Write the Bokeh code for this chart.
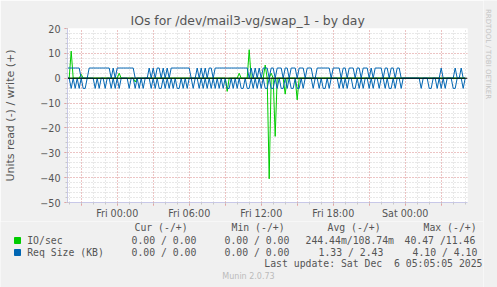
import math
from bokeh.plotting import figure
from bokeh.layouts import column, row
from bokeh.models import Range1d, FixedTicker
from bokeh.core.properties import value
from bokeh.embed import file_html
from bokeh.resources import INLINE

# ---- data (10-minute samples starting Thu 19:50; hours relative to Fri 00:00) ----
T0 = -25 / 6
N = 200

# Req Size (KB) write (+)
req_write = [
    4.1, 4.1, 4.1, 4.1, 4.1, 4.1, 4.1, 0, 0, 0,
    0, 4.1, 4.1, 4.1, 4.1, 4.1, 4.1, 4.1, 4.1, 4.1,
    4.1, 4.1, 0, 4.1, 0, 4.1, 4.1, 4.1, 4.1, 4.1,
    4.1, 4.1, 4.1, 4.1, 0, 0, 0, 0, 0, 0,
    0, 4.1, 0, 4.1, 0, 4.1, 4.1, 0, 4.1, 0,
    4.1, 0, 4.1, 4.1, 4.1, 4.1, 4.1, 4.1, 4.1, 4.1,
    4.1, 4.1, 0, 0, 0, 4.1, 0, 4.1, 0, 4.1,
    0, 4.1, 4.1, 0, 4.1, 4.1, 4.1, 4.1, 4.1, 4.1,
    4.1, 4.1, 4.1, 4.1, 4.1, 4.1, 4.1, 4.1, 4.1, 4.1,
    4.1, 0, 4.1, 0, 4.1, 0, 4.1, 0, 4.1, 4.1,
    4.1, 0, 4.1, 4.1, 0, 4.1, 4.1, 4.1, 0, 4.1,
    4.1, 0, 4.1, 4.1, 4.1, 0, 4.1, 4.1, 4.1, 0,
    4.1, 4.1, 4.1, 0, 0, 4.1, 4.1, 4.1, 4.1, 4.1,
    4.1, 4.1, 0, 4.1, 4.1, 4.1, 4.1, 0, 4.1, 4.1,
    0, 4.1, 4.1, 4.1, 0, 4.1, 4.1, 0, 4.1, 4.1,
    4.1, 0, 4.1, 0, 4.1, 4.1, 4.1, 4.1, 0, 4.1,
    4.1, 0, 4.1, 4.1, 0, 4.1, 4.1, 0, 0, 0,
    0, 0, 0, 0, 0, 0, 0, 0, 0, 0,
    0, 0, 0, 0, 0, 0, 0, 4.1, 0, 0,
    0, 0, 0, 0, 4.1, 0, 0, 4.1, 0, 0,
]
# Req Size (KB) read (-)
req_read = [
    0, 0, 4.1, 0, 4.1, 0, 4.1, 0, 4.1, 4.1,
    0, 0, 0, 0, 4.1, 0, 4.1, 0, 0, 4.1,
    0, 0, 4.1, 0, 4.1, 0, 4.1, 0, 0, 0,
    0, 4.1, 0, 0, 4.1, 0, 4.1, 0, 4.1, 0,
    0, 0, 4.1, 0, 4.1, 0, 4.1, 4.1, 0, 4.1,
    0, 4.1, 0, 4.1, 0, 4.1, 4.1, 0, 4.1, 0,
    4.1, 0, 0, 4.1, 0, 0, 4.1, 0, 4.1, 0,
    4.1, 0, 4.1, 0, 4.1, 0, 4.1, 0, 4.1, 0,
    4.1, 4.1, 0, 4.1, 0, 4.1, 0, 4.1, 4.1, 0,
    4.1, 4.1, 0, 4.1, 0, 4.1, 0, 4.1, 0, 4.1,
    4.1, 0, 4.1, 4.1, 0, 4.1, 0, 4.1, 4.1, 0,
    4.1, 0, 4.1, 4.1, 0, 4.1, 4.1, 0, 4.1, 0,
    0, 0, 0, 4.1, 0, 0, 4.1, 0, 4.1, 4.1,
    0, 4.1, 0, 0, 0, 0, 4.1, 0, 4.1, 0,
    4.1, 0, 0, 4.1, 4.1, 0, 4.1, 0, 4.1, 0,
    0, 4.1, 0, 4.1, 0, 0, 4.1, 0, 0, 4.1,
    0, 4.1, 4.1, 0, 4.1, 0, 0, 4.1, 0, 0,
    0, 0, 0, 0, 0, 0, 0, 4.1, 0, 0,
    0, 4.1, 4.1, 0, 0, 4.1, 0, 4.1, 0, 4.1,
    0, 0, 0, 4.1, 4.1, 0, 0, 0, 4.1, 0,
]
# IO/sec spikes (sample index, value); other samples ~0
io_write_idx = [2, 7, 26, 86, 91, 99, 102]
io_write_val = [10.9, 1.6, 2.0, 2.0, 11.46, 5.3, 2.0]
io_read_idx = [34, 80, 101, 104, 109, 115]
io_read_val = [1.5, 5.3, 40.47, 23.4, 6.4, 8.7]

x_tick_hours = [0, 6, 12, 18, 24]
x_tick_labels = ["Fri 00:00", "Fri 06:00", "Fri 12:00", "Fri 18:00", "Sat 00:00"]
y_ticks = [20, 10, 0, -10, -20, -30, -40, -50]

legend_header = ["Cur (-/+)", "Min (-/+)", "Avg (-/+)", "Max (-/+)"]
legend_io = ["IO/sec", "0.00 / 0.00", "0.00 / 0.00", "244.44m/108.74m", "40.47 /11.46"]
legend_req = ["Req Size (KB)", "0.00 / 0.00", "0.00 / 0.00", "1.33 / 2.43", "4.10 / 4.10"]
last_update = "Last update: Sat Dec \u00a06 05:05:05 2025"

# ---- build series ----
hours = [T0 + i / 6 for i in range(N)]
io_write = [0.0] * N
io_read = [0.0] * N
for i, v in zip(io_write_idx, io_write_val):
    io_write[i] = v
for i, v in zip(io_read_idx, io_read_val):
    io_read[i] = v

W, H = 497, 287
STRIP = 14            # right strip with the RRDTOOL credit
MW = W - STRIP        # width of main + legend figures
MH = 221              # height of main figure
FL, FR, FT, FB = 67, 467, 28, 203
BG = "#F0F0F0"
TXT = "#555555"
GREEN = "#00CC00"
BLUE = "#0066B3"

p = figure(width=MW, height=MH, output_backend="svg", toolbar_location=None,
           x_range=Range1d(-4.1417, 29.1917), y_range=Range1d(-50, 20),
           min_border_left=FL, min_border_right=MW - FR, min_border_top=FT,
           min_border_bottom=MH - FB)
p.frame_align = False
p.background_fill_color = "white"
p.border_fill_color = BG
p.outline_line_color = None

p.title.text = "IOs for /dev/mail3-vg/swap_1 - by day"
p.title.align = "left"
p.title.offset = 63
p.title.text_font = "DejaVu Sans"
p.title.text_font_size = "12.4px"
p.title.text_font_style = "normal"
p.title.text_color = TXT
p.title.standoff = 2

p.line(hours, io_write, color=GREEN, line_width=1)
p.line(hours, [-v for v in io_read], color=GREEN, line_width=1)
p.line(hours, req_write, color=BLUE, line_width=1)
p.line(hours, [-v for v in req_read], color=BLUE, line_width=1)
p.line([-4.1417, 29.1917], [0, 0], color="black", line_width=1)

# grid
p.xgrid.ticker = FixedTicker(ticks=[h for h in range(-3, 30, 3)],
                             minor_ticks=[h for h in range(-4, 30)])
p.xgrid.grid_line_color = "#F0A0A0"
p.xgrid.grid_line_dash = "1 2"
p.xgrid.minor_grid_line_color = "#D0D0D0"
p.xgrid.minor_grid_line_dash = "1 2"
p.ygrid.ticker = FixedTicker(ticks=y_ticks, minor_ticks=list(range(-50, 21, 2)))
p.ygrid.grid_line_color = "#F0A0A0"
p.ygrid.grid_line_dash = "1 2"
p.ygrid.minor_grid_line_color = "#D0D0D0"
p.ygrid.minor_grid_line_dash = "1 2"

for ax in (p.xaxis[0], p.yaxis[0]):
    ax.axis_line_color = "#C8C8E8"
    ax.major_tick_line_color = "#F08080"
    ax.minor_tick_line_color = "#C8C8C8"
    ax.major_tick_out = 3
    ax.major_tick_in = 0
    ax.minor_tick_out = 2
    ax.minor_tick_in = 0
    ax.major_label_text_font = "DejaVu Sans"
    ax.major_label_text_font_size = "9.6px"
    ax.major_label_text_color = TXT

p.xaxis.ticker = FixedTicker(ticks=[h for h in range(-3, 30, 3)],
                             minor_ticks=[h for h in range(-4, 30)])
overrides = {h: "" for h in range(-3, 30, 3)}
overrides.update({h: l for h, l in zip(x_tick_hours, x_tick_labels)})
p.xaxis.major_label_overrides = overrides
p.xaxis.major_label_standoff = 2
p.yaxis.ticker = FixedTicker(ticks=y_ticks, minor_ticks=list(range(-50, 21, 2)))
p.yaxis.major_label_standoff = 4
p.yaxis.axis_label = "Units read (-) / write (+)"
p.yaxis.axis_label_text_font = "DejaVu Sans"
p.yaxis.axis_label_text_font_size = "11px"
p.yaxis.axis_label_text_font_style = "normal"
p.yaxis.axis_label_text_color = TXT
p.yaxis.axis_label_standoff = 20

# ---- legend area (coordinates are canvas pixels) ----
LH = H - MH
q = figure(width=MW, height=LH, output_backend="svg", toolbar_location=None,
           x_range=Range1d(0, MW), y_range=Range1d(H, MH),
           min_border=0, min_border_left=0, min_border_right=0,
           min_border_top=0, min_border_bottom=0)
q.frame_align = False
q.axis.visible = False
q.grid.visible = False
q.outline_line_color = None
q.background_fill_color = BG
q.border_fill_color = BG

mono = value("DejaVu Sans Mono")
hx = [134, 231, 327, 423]
q.text(x=hx, y=[227.3] * 4, text=legend_header, text_font=mono, text_font_size="9.8px",
       text_baseline="middle", text_color=TXT)
cx = [26.7, 131, 224, 305, 404]
q.text(x=cx, y=[239.7] * 5, text=legend_io, text_font=mono, text_font_size="9.8px",
       text_baseline="middle", text_color=TXT)
cx2 = [26.7, 131, 224, 318, 412]
q.text(x=cx2, y=[251.7] * 5, text=legend_req, text_font=mono, text_font_size="9.8px",
       text_baseline="middle", text_color=TXT)
q.text(x=[482], y=[263.3], text=[last_update], text_font=mono,
       text_font_size="9.8px", text_baseline="middle", text_align="right", text_color=TXT)
q.text(x=[248], y=[276.3], text=["Munin 2.0.73"], text_font=value("DejaVu Sans"),
       text_font_size="8px", text_baseline="middle", text_align="center", text_color="#BBBBBB")
q.rect(x=[17, 17], y=[240, 252], width=6, height=6, color=[GREEN, BLUE])

# ---- right strip with rotated credit ----
r = figure(width=STRIP, height=H, output_backend="svg", toolbar_location=None,
           x_range=Range1d(MW, W), y_range=Range1d(H, 0),
           min_border=0, min_border_left=0, min_border_right=0,
           min_border_top=0, min_border_bottom=0)
r.frame_align = False
r.axis.visible = False
r.grid.visible = False
r.outline_line_color = None
r.background_fill_color = BG
r.border_fill_color = BG
r.text(x=[487.7], y=[53.5], text=["RRDTOOL / TOBI OETIKER"], text_font=value("DejaVu Sans"),
       text_font_size="7px", text_baseline="middle", text_align="center",
       text_color="#C4C4C4", angle=-math.pi / 2)

layout = row(column(p, q, spacing=0), r, spacing=0)
open("out.html", "w").write(file_html(layout, INLINE))
